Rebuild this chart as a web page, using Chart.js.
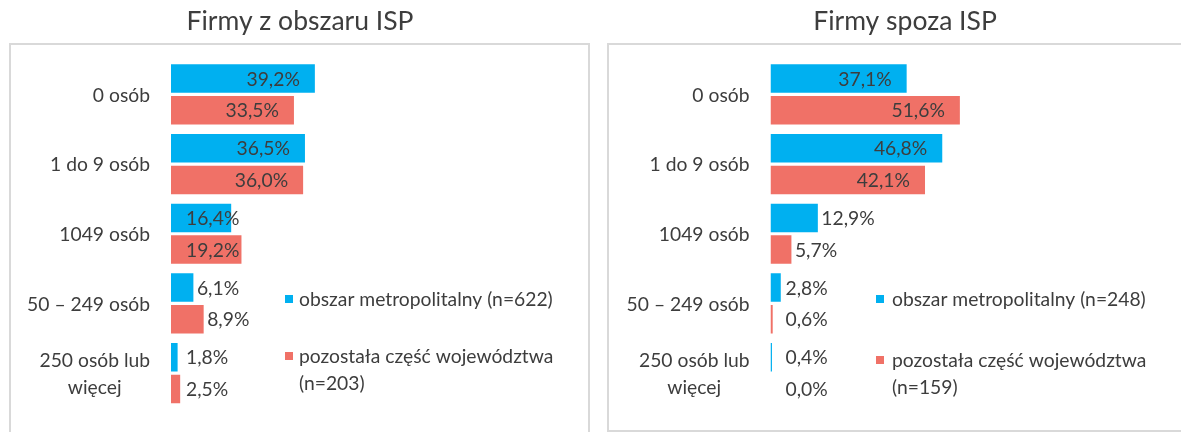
<!DOCTYPE html>
<html>
<head>
<meta charset="utf-8">
<script src="https://cdn.jsdelivr.net/npm/chart.js@4/dist/chart.umd.min.js"></script>
<style>
  html, body { margin: 0; padding: 0; background: #fff; overflow: hidden; }
  #wrap { position: relative; width: 1181px; height: 432px; overflow: hidden; }
  .box { position: absolute; top: 0; }
  #left { left: 0; }
  #right { left: 600px; }
</style>
</head>
<body>
<div id="wrap">
  <div class="box" id="left"><canvas id="chartLeft" width="600" height="432"></canvas></div>
  <div class="box" id="right"><canvas id="chartRight" width="610" height="432"></canvas></div>
</div>
<script>
// categories (last one wraps on two lines)
const categories = ['0 osób', '1 do 9 osób', '1049 osób', '50 – 249 osób', ['250 osób lub', 'więcej']];

// Firmy z obszaru ISP
const ispTitle = 'Firmy z obszaru ISP';
const ispSeries = ['obszar metropolitalny (n=622)', 'pozostała część województwa (n=203)'];
const ispMetro = [39.2, 36.5, 16.4, 6.1, 1.8];
const ispRest = [33.5, 36.0, 19.2, 8.9, 2.5];

// Firmy spoza ISP
const outTitle = 'Firmy spoza ISP';
const outSeries = ['obszar metropolitalny (n=248)', 'pozostała część województwa (n=159)'];
const outMetro = [37.1, 46.8, 12.9, 2.8, 0.4];
const outRest = [51.6, 42.1, 5.7, 0.6, 0.0];

const BLUE = '#00B0F0';
const RED = '#F07167';
const TEXT = '#3d3d3d';
const FONT = '19.3px Lato';
const LINE_H = 27;

const fmt = v => v.toFixed(1).replace('.', ',') + '%';

function wrapText(ctx, text, maxW) {
    const words = text.split(' ');
    const lines = [];
    let cur = '';
    words.forEach(w => {
        const t = cur ? cur + ' ' + w : w;
        if (cur && ctx.measureText(t).width > maxW) {
            lines.push(cur);
            cur = w;
        } else {
            cur = t;
        }
    });
    lines.push(cur);
    return lines;
}

// light grey frame around each chart
function framePlugin(x, y, w, h) {
    return {
        id: 'frame',
        beforeDraw(chart) {
            const ctx = chart.ctx;
            ctx.save();
            ctx.strokeStyle = '#D9D9D9';
            ctx.lineWidth = 2;
            ctx.strokeRect(x, y, w, h);
            ctx.restore();
        }
    };
}

// category labels, multi-line ones centred on their widest line
const categoryLabels = {
    id: 'categoryLabels',
    afterDraw(chart) {
        const scale = chart.scales.y;
        const ctx = chart.ctx;
        ctx.save();
        ctx.font = FONT;
        ctx.fillStyle = TEXT;
        ctx.textAlign = 'center';
        ctx.textBaseline = 'middle';
        const right = chart.chartArea.left - 21;
        scale.getLabels().forEach((lab, i) => {
            const lines = Array.isArray(lab) ? lab : [lab];
            const w = Math.max(...lines.map(l => ctx.measureText(l).width));
            const y0 = scale.getPixelForValue(i) - (lines.length - 1) * LINE_H / 2;
            lines.forEach((l, k) => ctx.fillText(l, right - w / 2, y0 + k * LINE_H + 1));
        });
        ctx.restore();
    }
};

// value labels next to / inside the bars
const barLabels = {
    id: 'barLabels',
    afterDatasetsDraw(chart) {
        const ctx = chart.ctx;
        ctx.save();
        ctx.font = FONT;
        ctx.fillStyle = TEXT;
        ctx.textBaseline = 'middle';
        chart.data.datasets.forEach((ds, di) => {
            chart.getDatasetMeta(di).data.forEach((bar, i) => {
                const v = ds.data[i];
                let x;
                if (v >= 25) {
                    ctx.textAlign = 'right';
                    x = bar.x - 15;
                } else if (v >= 14) {
                    ctx.textAlign = 'left';
                    x = bar.base + 15;
                } else {
                    ctx.textAlign = 'left';
                    x = Math.max(bar.x + 3.5, bar.base + 15);
                }
                ctx.fillText(fmt(v), x, bar.y + 1);
            });
        });
        ctx.restore();
    }
};

// legend placed over the empty right part of the plot
function legendPlugin(sqX, textX, ys, maxW) {
    return {
        id: 'sideLegend',
        afterDraw(chart) {
            const ctx = chart.ctx;
            ctx.save();
            ctx.font = FONT;
            ctx.textBaseline = 'middle';
            ctx.textAlign = 'left';
            chart.data.datasets.forEach((ds, i) => {
                const y = ys[i];
                ctx.fillStyle = ds.backgroundColor;
                ctx.fillRect(sqX, y - 4, 8, 8);
                ctx.fillStyle = TEXT;
                wrapText(ctx, ds.label, maxW).forEach((l, k) => {
                    ctx.fillText(l, textX, y + 1 + k * LINE_H);
                });
            });
            ctx.restore();
        }
    };
}

// side padding is kept equal so the title stays centred on the canvas
function makeChart(id, title, labels, metro, rest, sidePad, axisWidth, plugins) {
    return new Chart(document.getElementById(id), {
        type: 'bar',
        data: {
            labels: categories,
            datasets: [
                { label: labels[0], data: metro, backgroundColor: BLUE },
                { label: labels[1], data: rest, backgroundColor: RED }
            ]
        },
        options: {
            indexAxis: 'y',
            responsive: false,
            animation: false,
            categoryPercentage: 0.91,
            barPercentage: 0.9,
            layout: { padding: { top: 0, bottom: 24.1, left: sidePad, right: sidePad } },
            scales: {
                x: { display: false, min: 0, max: 100 },
                y: {
                    grid: { display: false },
                    border: { display: false },
                    ticks: { display: false },
                    afterFit: s => { s.width = axisWidth; }
                }
            },
            plugins: {
                legend: { display: false },
                tooltip: { enabled: false },
                title: {
                    display: true,
                    text: title,
                    color: TEXT,
                    font: { family: 'Lato', size: 26.5, weight: 'normal' },
                    padding: { top: 6, bottom: 21.8 }
                }
            }
        },
        plugins: plugins.concat([categoryLabels, barLabels])
    });
}

makeChart('chartLeft', ispTitle, ispSeries, ispMetro, ispRest, 62, 109,
    [framePlugin(10, 44, 579, 400), legendPlugin(285, 299, [299, 356], 285)]);

makeChart('chartRight', outTitle, outSeries, outMetro, outRest, 72.5, 98,
    [framePlugin(8, 44, 594, 387), legendPlugin(276, 292, [299, 360], 285)]);
</script>
</body>
</html>
